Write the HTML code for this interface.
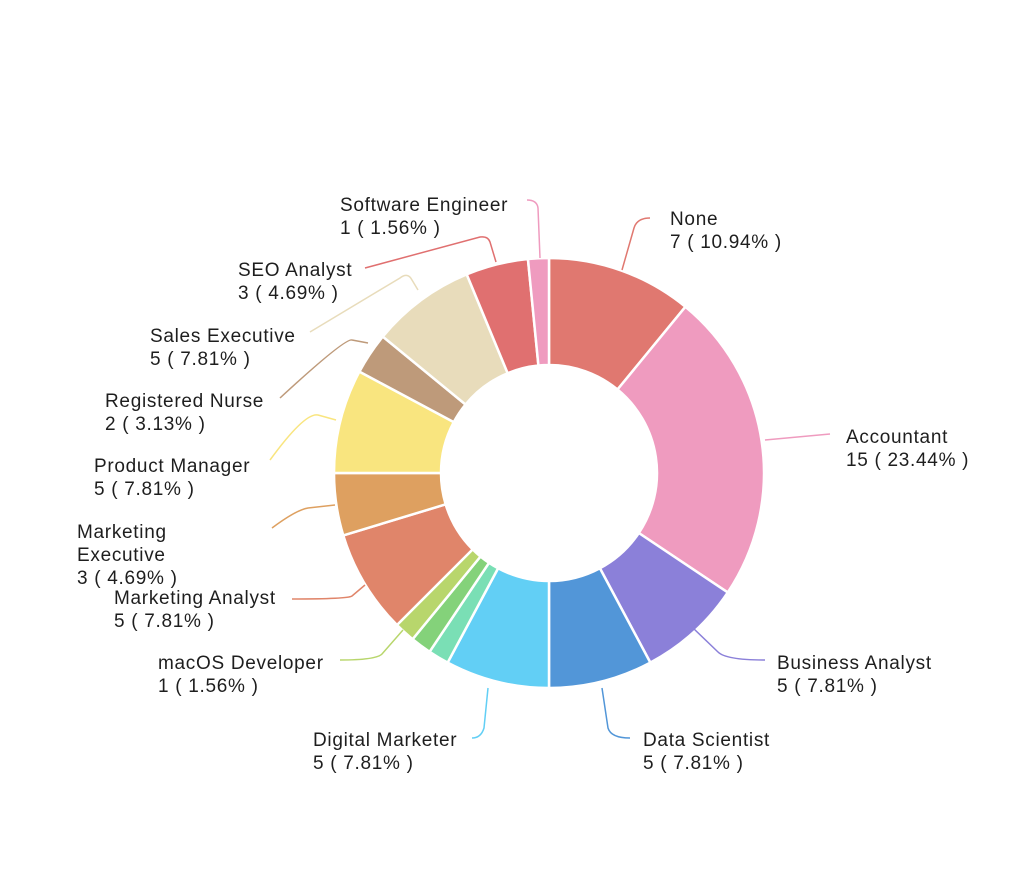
<!DOCTYPE html>
<html><head><meta charset="utf-8"><style>
html,body{margin:0;padding:0;background:#fff;}
svg text{font-family:"Liberation Sans",sans-serif;font-size:19px;letter-spacing:0.7px;fill:#1e1e1e;}
</style></head><body>
<svg id="s" width="1018" height="873" xmlns="http://www.w3.org/2000/svg">
<g id="pie"></g>
<g fill="none" stroke-width="1.5">
<path d="M622,270 L634,228 Q637,218 650,218" stroke="#e07870"/>
<path d="M765,440 L830,434" stroke="#ef9bbf"/>
<path d="M693,628 L718,652 Q726,660 765,660" stroke="#8b80d9"/>
<path d="M602,688 L608,728 Q611,738 630,738" stroke="#5296d8"/>
<path d="M488,688 L484,728 Q481,738 472,738" stroke="#62cff5"/>
<path d="M403,630 L382,654 Q376,660 340,660" stroke="#b8d66c"/>
<path d="M365,585 L352,596 Q348,599 292,599" stroke="#e0856a"/>
<path d="M335,505 L308,508 Q296,510 272,528" stroke="#dea060"/>
<path d="M336,420 L318,415 Q305,412 270,460" stroke="#f9e57f"/>
<path d="M368,343 L352,340 Q345,338 280,398" stroke="#be9a7a"/>
<path d="M418,290 L412,280 Q408,272 400,278 L310,332" stroke="#e8dcbb"/>
<path d="M496,262 L490,242 Q488,236 480,237 L365,268" stroke="#e07070"/>
<path d="M540,258 L538,208 Q537,200 527,200" stroke="#ef9bbf"/>
</g>
<text x="670" y="225">None</text><text x="670" y="248">7 ( 10.94% )</text>
<text x="846" y="443">Accountant</text><text x="846" y="466">15 ( 23.44% )</text>
<text x="777" y="669">Business Analyst</text><text x="777" y="692">5 ( 7.81% )</text>
<text x="643" y="746">Data Scientist</text><text x="643" y="769">5 ( 7.81% )</text>
<text x="313" y="746">Digital Marketer</text><text x="313" y="769">5 ( 7.81% )</text>
<text x="158" y="669">macOS Developer</text><text x="158" y="692">1 ( 1.56% )</text>
<text x="114" y="604">Marketing Analyst</text><text x="114" y="627">5 ( 7.81% )</text>
<text x="77" y="538">Marketing</text><text x="77" y="561">Executive</text><text x="77" y="584">3 ( 4.69% )</text>
<text x="94" y="472">Product Manager</text><text x="94" y="495">5 ( 7.81% )</text>
<text x="105" y="407">Registered Nurse</text><text x="105" y="430">2 ( 3.13% )</text>
<text x="150" y="342">Sales Executive</text><text x="150" y="365">5 ( 7.81% )</text>
<text x="238" y="276">SEO Analyst</text><text x="238" y="299">3 ( 4.69% )</text>
<text x="340" y="211">Software Engineer</text><text x="340" y="234">1 ( 1.56% )</text>
</svg>
<script>
var d=[[7,"#e07870"],[15,"#ef9bbf"],[5,"#8b80d9"],[5,"#5296d8"],[5,"#62cff5"],[1,"#7adfb5"],[1,"#84d27a"],[1,"#b8d66c"],[5,"#e0856a"],[3,"#dea060"],[5,"#f9e57f"],[2,"#be9a7a"],[5,"#e8dcbb"],[3,"#e07070"],[1,"#ef9bbf"]];
var cx=549,cy=473,R=215,r=108,a=0,h="";
function p(rad,ang){var t=ang/64*2*Math.PI;return (cx+rad*Math.sin(t)).toFixed(2)+","+(cy-rad*Math.cos(t)).toFixed(2);}
d.forEach(function(s){var b=a+s[0],l=(s[0]>32)?1:0;
h+='<path d="M'+p(R,a)+' A'+R+','+R+' 0 '+l+' 1 '+p(R,b)+' L'+p(r,b)+' A'+r+','+r+' 0 '+l+' 0 '+p(r,a)+' Z" fill="'+s[1]+'" stroke="#fff" stroke-width="2.5"/>';a=b;});
document.getElementById("pie").innerHTML=h;
</script>
</body></html>
